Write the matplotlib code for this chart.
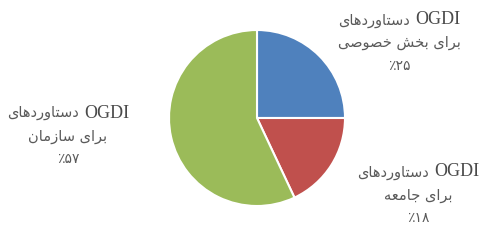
import matplotlib
matplotlib.use("Agg")
import matplotlib.pyplot as plt

# data
heads = ["دستاوردهای", "دستاوردهای", "دستاوردهای"]
tags = ["OGDI", "OGDI", "OGDI"]
subs = ["برای بخش خصوصی", "برای جامعه", "برای سازمان"]
values = [25, 18, 57]
colors = ["#4F81BD", "#C0504D", "#9BBB59"]

# label centres in pixels (x, y from top)
label_pos = [(399, 20), (418, 172), (68, 113)]

# presentation forms: isolated, final, initial, medial (2 entries = right-joining only)
FORMS = {
    "ا": (0xFE8D, 0xFE8E), "ب": (0xFE8F, 0xFE90, 0xFE91, 0xFE92),
    "ت": (0xFE95, 0xFE96, 0xFE97, 0xFE98), "ج": (0xFE9D, 0xFE9E, 0xFE9F, 0xFEA0),
    "خ": (0xFEA5, 0xFEA6, 0xFEA7, 0xFEA8), "د": (0xFEA9, 0xFEAA),
    "ر": (0xFEAD, 0xFEAE), "ز": (0xFEAF, 0xFEB0),
    "س": (0xFEB1, 0xFEB2, 0xFEB3, 0xFEB4), "ش": (0xFEB5, 0xFEB6, 0xFEB7, 0xFEB8),
    "ص": (0xFEB9, 0xFEBA, 0xFEBB, 0xFEBC), "ع": (0xFEC9, 0xFECA, 0xFECB, 0xFECC),
    "م": (0xFEE1, 0xFEE2, 0xFEE3, 0xFEE4), "ن": (0xFEE5, 0xFEE6, 0xFEE7, 0xFEE8),
    "ه": (0xFEE9, 0xFEEA, 0xFEEB, 0xFEEC), "و": (0xFEED, 0xFEEE),
    "ی": (0xFBFC, 0xFBFD, 0xFBFE, 0xFBFF),
}


def shape_word(w):
    out = []
    for i, c in enumerate(w):
        f = FORMS[c]
        prev = i > 0 and len(FORMS[w[i - 1]]) == 4
        nxt = len(f) == 4 and i < len(w) - 1
        if prev and nxt:
            k = 3
        elif prev:
            k = 1
        elif nxt:
            k = 2
        else:
            k = 0
        out.append(chr(f[k]))
    return "".join(out)


def visual(line):
    # whole line is arabic: shape each word, then reverse for display
    return " ".join(shape_word(w) for w in line.split(" "))[::-1]


fa_digits = str.maketrans("0123456789", "۰۱۲۳۴۵۶۷۸۹")

W, H = 485, 243
fig = plt.figure(figsize=(W / 100, H / 100), dpi=100)
cx, cy, r = 257, 118, 88
ax = fig.add_axes([(cx - r) / W, (H - cy - r) / H, 2 * r / W, 2 * r / H])
ax.pie(values, colors=colors, startangle=90, counterclock=False,
       wedgeprops=dict(edgecolor="white", linewidth=1.5))
ax.set_xlim(-1, 1)
ax.set_ylim(-1, 1)
ax.axis("off")

rend = fig.canvas.get_renderer()
txt_col = "#5a5a5a"
ar_font = "DejaVu Sans"
gap = 5

for head, tag, sub, v, (px, py) in zip(heads, tags, subs, values, label_pos):
    y0 = 1 - py / H
    # first line: arabic word on the left, OGDI on the right
    t1 = fig.text(0, y0, visual(head), ha="left", va="center",
                  fontsize=10.5, color=txt_col, family=ar_font)
    t2 = fig.text(0, y0, tag, ha="left", va="center",
                  fontsize=13, color="#4a4a4a", family="Liberation Serif")
    w1 = t1.get_window_extent(rend).width
    w2 = t2.get_window_extent(rend).width
    left = px - (w1 + gap + w2) / 2
    t1.set_x(left / W)
    t2.set_x((left + w1 + gap) / W)

    fig.text(px / W, 1 - (py + 23) / H, visual(sub), ha="center", va="center",
             fontsize=10.5, color=txt_col, family=ar_font)
    fig.text(px / W, 1 - (py + 46) / H, "٪" + str(v).translate(fa_digits),
             ha="center", va="center", fontsize=10, color=txt_col, family=ar_font)

fig.savefig("out.png", dpi=100)
